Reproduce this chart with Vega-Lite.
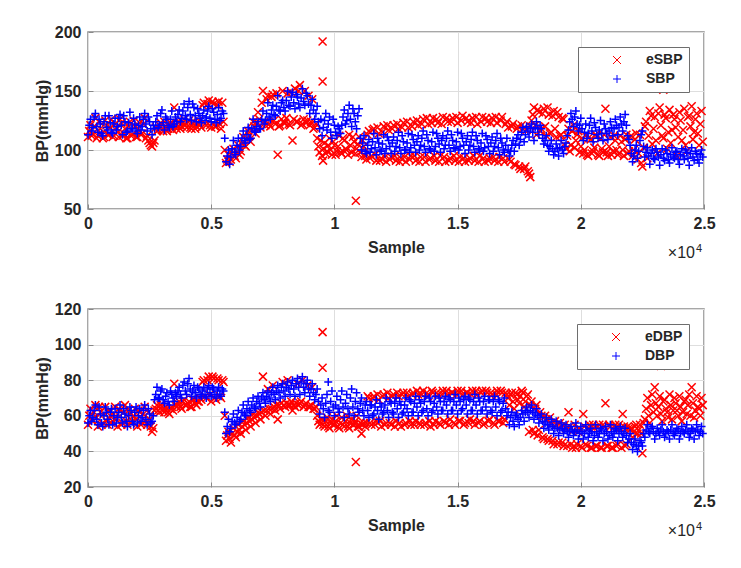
{
"$schema": "https://vega.github.io/schema/vega-lite/v6.json",
"padding": {"left": 33, "top": 23, "right": 10, "bottom": 10},
"background": "white",
"spacing": 100,
"bounds": "flush",
"resolve": {"scale": {"color": "independent", "shape": "independent"}},
"config": {
  "font": "Liberation Sans",
  "view": {"stroke": "#8a8a8a", "strokeWidth": 1.5},
  "axis": {"labelFont": "Liberation Sans", "labelFontSize": 16, "labelFontWeight": "bold", "labelColor": "#262626", "titleFont": "Liberation Sans", "titleFontSize": 16, "titleFontWeight": "bold", "titleColor": "#262626", "domain": false, "gridColor": "#dedede", "gridWidth": 1, "tickColor": "#8a8a8a", "tickSize": -5, "labelFlush": false, "labelOverlap": false, "tickCount": 12},
  "axisX": {"labelPadding": 11, "titlePadding": 8},
  "axisY": {"labelPadding": 12, "titlePadding": 4},
  "legend": {"orient": "top-right", "offset": 15, "strokeColor": "#6e6e6e", "fillColor": "white", "padding": 6, "labelFont": "Liberation Sans", "labelFontSize": 14, "labelFontWeight": "bold", "labelColor": "#262626", "symbolStrokeWidth": 1, "symbolSize": 64, "rowPadding": 5, "labelOffset": 22, "symbolOffset": 26}
},
"datasets": {
"SBP": [
{"x":0,"y":113},{"x":100,"y":126},{"x":200,"y":119},{"x":300,"y":131},{"x":400,"y":115},{"x":500,"y":122},{"x":600,"y":112},{"x":700,"y":129},{"x":800,"y":117},{"x":900,"y":123},
{"x":1000,"y":114},{"x":1100,"y":127},{"x":1200,"y":120},{"x":1300,"y":130},{"x":1400,"y":113},{"x":1500,"y":124},{"x":1600,"y":116},{"x":1700,"y":132},{"x":1800,"y":118},{"x":1900,"y":122},
{"x":2000,"y":114},{"x":2100,"y":128},{"x":2200,"y":120},{"x":2300,"y":131},{"x":2400,"y":116},{"x":2500,"y":124},{"x":2600,"y":113},
{"x":2700,"y":118},{"x":2800,"y":129},{"x":2900,"y":121},{"x":3000,"y":134},{"x":3100,"y":117},{"x":3200,"y":126},{"x":3300,"y":119},{"x":3400,"y":133},{"x":3500,"y":122},
{"x":3600,"y":124},{"x":3700,"y":134},{"x":3800,"y":127},{"x":3900,"y":139},{"x":4000,"y":126},{"x":4100,"y":141},{"x":4200,"y":125},{"x":4300,"y":136},{"x":4400,"y":124},{"x":4500,"y":131},
{"x":4600,"y":123},{"x":4700,"y":134},{"x":4800,"y":128},{"x":4900,"y":137},{"x":5000,"y":124},{"x":5100,"y":132},{"x":5200,"y":123},{"x":5300,"y":136},{"x":5400,"y":127},{"x":5500,"y":131},
{"x":5600,"y":90},{"x":5700,"y":100},{"x":5800,"y":94},{"x":5900,"y":108},
{"x":6000,"y":96},{"x":6100,"y":110},{"x":6200,"y":103},{"x":6300,"y":116},{"x":6400,"y":106},{"x":6500,"y":119},{"x":6600,"y":110},{"x":6700,"y":126},{"x":6800,"y":115},{"x":6900,"y":124},
{"x":7000,"y":118},{"x":7100,"y":133},{"x":7200,"y":125},{"x":7300,"y":140},{"x":7400,"y":126},{"x":7500,"y":138},{"x":7600,"y":129},{"x":7700,"y":146},{"x":7800,"y":133},{"x":7900,"y":142},
{"x":8000,"y":133},{"x":8100,"y":150},{"x":8200,"y":137},{"x":8300,"y":149},{"x":8400,"y":135},{"x":8500,"y":145},{"x":8600,"y":136},{"x":8700,"y":152},{"x":8800,"y":138},{"x":8900,"y":146},
{"x":9000,"y":131},{"x":9100,"y":143},{"x":9200,"y":126},{"x":9300,"y":137},{"x":9400,"y":118},{"x":9500,"y":112},{"x":9600,"y":125},{"x":9700,"y":117},{"x":9800,"y":128},{"x":9900,"y":110},
{"x":10000,"y":121},{"x":10100,"y":112},{"x":10200,"y":118},{"x":10300,"y":121},{"x":10400,"y":134},{"x":10500,"y":125},{"x":10600,"y":138},{"x":10700,"y":120},{"x":10800,"y":131},{"x":10900,"y":118},
{"x":11000,"y":135},{"x":11100,"y":100},{"x":11200,"y":112},
{"x":11300,"y":97},{"x":11400,"y":109},{"x":11500,"y":101},{"x":11600,"y":114},{"x":11700,"y":96},{"x":11800,"y":106},{"x":11900,"y":99},{"x":12000,"y":113},{"x":12100,"y":101},{"x":12200,"y":108},
{"x":12300,"y":97},{"x":12400,"y":111},{"x":12500,"y":103},{"x":12600,"y":115},{"x":12700,"y":97},{"x":12800,"y":107},{"x":12900,"y":100},{"x":13000,"y":114},{"x":13100,"y":102},{"x":13200,"y":109},
{"x":13300,"y":98},{"x":13400,"y":112},{"x":13500,"y":104},{"x":13600,"y":116},{"x":13700,"y":98},{"x":13800,"y":108},{"x":13900,"y":100},{"x":14000,"y":115},{"x":14100,"y":103},{"x":14200,"y":110},
{"x":14300,"y":98},{"x":14400,"y":112},{"x":14500,"y":104},{"x":14600,"y":116},{"x":14700,"y":99},{"x":14800,"y":108},{"x":14900,"y":101},{"x":15000,"y":115},{"x":15100,"y":103},{"x":15200,"y":110},
{"x":15300,"y":97},{"x":15400,"y":112},{"x":15500,"y":104},{"x":15600,"y":115},{"x":15700,"y":98},{"x":15800,"y":108},{"x":15900,"y":100},{"x":16000,"y":114},{"x":16100,"y":102},{"x":16200,"y":109},
{"x":16300,"y":97},{"x":16400,"y":111},{"x":16500,"y":103},{"x":16600,"y":114},{"x":16700,"y":96},{"x":16800,"y":106},{"x":16900,"y":98},{"x":17000,"y":110},
{"x":17100,"y":95},{"x":17200,"y":104},{"x":17300,"y":99},{"x":17400,"y":110},{"x":17500,"y":104},{"x":17600,"y":115},{"x":17700,"y":107},{"x":17800,"y":120},{"x":17900,"y":111},{"x":18000,"y":122},
{"x":18100,"y":108},{"x":18200,"y":124},{"x":18300,"y":113},{"x":18400,"y":118},{"x":18500,"y":105},{"x":18600,"y":112},{"x":18700,"y":99},{"x":18800,"y":108},{"x":18900,"y":96},{"x":19000,"y":105},
{"x":19100,"y":95},{"x":19200,"y":108},{"x":19300,"y":97},{"x":19400,"y":106},
{"x":19500,"y":117},{"x":19600,"y":131},{"x":19700,"y":120},{"x":19800,"y":133},{"x":19900,"y":116},{"x":20000,"y":127},
{"x":20100,"y":108},{"x":20200,"y":122},{"x":20300,"y":114},{"x":20400,"y":127},{"x":20500,"y":107},{"x":20600,"y":119},{"x":20700,"y":110},{"x":20800,"y":125},{"x":20900,"y":108},{"x":21000,"y":118},
{"x":21100,"y":109},{"x":21200,"y":124},{"x":21300,"y":112},{"x":21400,"y":126},{"x":21500,"y":113},{"x":21600,"y":128},{"x":21700,"y":116},{"x":21800,"y":130},{"x":21900,"y":112},{"x":22000,"y":104},
{"x":22100,"y":90},{"x":22200,"y":100},{"x":22300,"y":93},{"x":22400,"y":108},{"x":22500,"y":116},
{"x":22600,"y":94},{"x":22700,"y":102},{"x":22800,"y":88},{"x":22900,"y":100},{"x":23000,"y":92},{"x":23100,"y":98},{"x":23200,"y":87},{"x":23300,"y":101},{"x":23400,"y":91},{"x":23500,"y":97},
{"x":23600,"y":89},{"x":23700,"y":102},{"x":23800,"y":93},{"x":23900,"y":99},{"x":24000,"y":88},{"x":24100,"y":101},{"x":24200,"y":92},{"x":24300,"y":98},{"x":24400,"y":87},{"x":24500,"y":102},
{"x":24600,"y":91},{"x":24700,"y":97},{"x":24800,"y":89},{"x":24900,"y":100},
{"x":50,"y":121},{"x":150,"y":116},{"x":250,"y":128},{"x":350,"y":120},{"x":450,"y":126},{"x":550,"y":114},{"x":650,"y":124},{"x":750,"y":119},{"x":850,"y":129},{"x":950,"y":115},
{"x":1050,"y":122},{"x":1150,"y":117},{"x":1250,"y":127},{"x":1350,"y":121},{"x":1450,"y":129},{"x":1550,"y":115},{"x":1650,"y":123},{"x":1750,"y":118},{"x":1850,"y":127},{"x":1950,"y":116},
{"x":2050,"y":121},{"x":2150,"y":117},{"x":2250,"y":126},{"x":2350,"y":122},{"x":2450,"y":128},{"x":2550,"y":118},{"x":2650,"y":121},
{"x":2750,"y":124},{"x":2850,"y":119},{"x":2950,"y":131},{"x":3050,"y":123},{"x":3150,"y":128},{"x":3250,"y":121},{"x":3350,"y":126},{"x":3450,"y":120},{"x":3550,"y":128},
{"x":3650,"y":130},{"x":3750,"y":124},{"x":3850,"y":133},{"x":3950,"y":129},{"x":4050,"y":136},{"x":4150,"y":130},{"x":4250,"y":139},{"x":4350,"y":129},{"x":4450,"y":135},{"x":4550,"y":127},
{"x":4650,"y":129},{"x":4750,"y":125},{"x":4850,"y":133},{"x":4950,"y":127},{"x":5050,"y":135},{"x":5150,"y":126},{"x":5250,"y":130},{"x":5350,"y":125},{"x":5450,"y":133},{"x":5550,"y":110},
{"x":5650,"y":95},{"x":5750,"y":88},{"x":5850,"y":101},{"x":5950,"y":98},
{"x":6050,"y":104},{"x":6150,"y":100},{"x":6250,"y":110},{"x":6350,"y":108},{"x":6450,"y":113},{"x":6550,"y":109},{"x":6650,"y":118},{"x":6750,"y":116},{"x":6850,"y":120},{"x":6950,"y":118},
{"x":7050,"y":126},{"x":7150,"y":122},{"x":7250,"y":131},{"x":7350,"y":128},{"x":7450,"y":134},{"x":7550,"y":130},{"x":7650,"y":137},{"x":7750,"y":134},{"x":7850,"y":140},{"x":7950,"y":136},
{"x":8050,"y":142},{"x":8150,"y":138},{"x":8250,"y":145},{"x":8350,"y":140},{"x":8450,"y":147},{"x":8550,"y":139},{"x":8650,"y":144},{"x":8750,"y":141},{"x":8850,"y":148},{"x":8950,"y":139},
{"x":9050,"y":138},{"x":9150,"y":134},{"x":9250,"y":131},{"x":9350,"y":124},{"x":9450,"y":126},
{"x":9550,"y":119},{"x":9650,"y":131},{"x":9750,"y":122},{"x":9850,"y":115},{"x":9950,"y":126},
{"x":10050,"y":115},{"x":10150,"y":120},{"x":10250,"y":114},{"x":10350,"y":128},{"x":10450,"y":122},{"x":10550,"y":131},{"x":10650,"y":126},{"x":10750,"y":135},{"x":10850,"y":124},{"x":10950,"y":129},
{"x":11050,"y":110},{"x":11150,"y":106},{"x":11250,"y":99},
{"x":11350,"y":104},{"x":11450,"y":98},{"x":11550,"y":107},{"x":11650,"y":102},{"x":11750,"y":110},{"x":11850,"y":100},{"x":11950,"y":105},{"x":12050,"y":97},{"x":12150,"y":111},{"x":12250,"y":103},
{"x":12350,"y":106},{"x":12450,"y":99},{"x":12550,"y":108},{"x":12650,"y":102},{"x":12750,"y":112},{"x":12850,"y":100},{"x":12950,"y":106},{"x":13050,"y":98},{"x":13150,"y":113},{"x":13250,"y":104},
{"x":13350,"y":107},{"x":13450,"y":100},{"x":13550,"y":110},{"x":13650,"y":103},{"x":13750,"y":113},{"x":13850,"y":101},{"x":13950,"y":107},{"x":14050,"y":99},{"x":14150,"y":114},{"x":14250,"y":105},
{"x":14350,"y":108},{"x":14450,"y":101},{"x":14550,"y":110},{"x":14650,"y":104},{"x":14750,"y":113},{"x":14850,"y":102},{"x":14950,"y":107},{"x":15050,"y":100},{"x":15150,"y":114},{"x":15250,"y":104},
{"x":15350,"y":107},{"x":15450,"y":100},{"x":15550,"y":109},{"x":15650,"y":103},{"x":15750,"y":112},{"x":15850,"y":101},{"x":15950,"y":106},{"x":16050,"y":99},{"x":16150,"y":112},{"x":16250,"y":103},
{"x":16350,"y":106},{"x":16450,"y":99},{"x":16550,"y":108},{"x":16650,"y":102},{"x":16750,"y":110},{"x":16850,"y":100},{"x":16950,"y":104},
{"x":17050,"y":100},{"x":17150,"y":99},{"x":17250,"y":108},{"x":17350,"y":105},{"x":17450,"y":113},{"x":17550,"y":109},{"x":17650,"y":119},{"x":17750,"y":113},{"x":17850,"y":116},{"x":17950,"y":118},
{"x":18050,"y":115},{"x":18150,"y":119},{"x":18250,"y":118},{"x":18350,"y":121},{"x":18450,"y":110},{"x":18550,"y":108},{"x":18650,"y":104},{"x":18750,"y":103},{"x":18850,"y":101},{"x":18950,"y":99},
{"x":19050,"y":101},{"x":19150,"y":102},{"x":19250,"y":100},{"x":19350,"y":103},{"x":19450,"y":112},
{"x":19550,"y":124},{"x":19650,"y":126},{"x":19750,"y":128},{"x":19850,"y":122},{"x":19950,"y":121},
{"x":20050,"y":118},{"x":20150,"y":115},{"x":20250,"y":110},{"x":20350,"y":121},{"x":20450,"y":116},{"x":20550,"y":123},{"x":20650,"y":113},{"x":20750,"y":117},{"x":20850,"y":114},{"x":20950,"y":122},
{"x":21050,"y":114},{"x":21150,"y":116},{"x":21250,"y":119},{"x":21350,"y":118},{"x":21450,"y":121},{"x":21550,"y":119},{"x":21650,"y":122},{"x":21750,"y":124},{"x":21850,"y":121},{"x":21950,"y":109},
{"x":22050,"y":97},{"x":22150,"y":95},{"x":22250,"y":104},{"x":22350,"y":99},{"x":22450,"y":113},{"x":22550,"y":103},
{"x":22650,"y":98},{"x":22750,"y":95},{"x":22850,"y":97},{"x":22950,"y":93},{"x":23050,"y":101},{"x":23150,"y":94},{"x":23250,"y":96},{"x":23350,"y":93},{"x":23450,"y":100},{"x":23550,"y":92},
{"x":23650,"y":96},{"x":23750,"y":94},{"x":23850,"y":98},{"x":23950,"y":92},{"x":24050,"y":96},{"x":24150,"y":95},{"x":24250,"y":100},{"x":24350,"y":93},{"x":24450,"y":97},{"x":24550,"y":94},
{"x":24650,"y":99},{"x":24750,"y":92},{"x":24850,"y":96},{"x":24950,"y":94}
],
"eSBP": [
{"x":0,"y":111},{"x":100,"y":121},{"x":200,"y":114},{"x":300,"y":127},{"x":400,"y":112},{"x":500,"y":118},{"x":600,"y":110},{"x":700,"y":125},{"x":800,"y":113},{"x":900,"y":119},
{"x":1000,"y":111},{"x":1100,"y":122},{"x":1200,"y":115},{"x":1300,"y":126},{"x":1400,"y":112},{"x":1500,"y":118},{"x":1600,"y":110},{"x":1700,"y":124},{"x":1800,"y":113},{"x":1900,"y":120},
{"x":2000,"y":111},{"x":2100,"y":123},{"x":2200,"y":114},{"x":2300,"y":127},{"x":2400,"y":112},{"x":2500,"y":106},{"x":2600,"y":103},{"x":2700,"y":108},
{"x":2800,"y":116},{"x":2900,"y":121},{"x":3000,"y":117},{"x":3100,"y":124},{"x":3200,"y":116},{"x":3300,"y":121},{"x":3400,"y":118},{"x":3500,"y":136},
{"x":3600,"y":118},{"x":3700,"y":124},{"x":3800,"y":120},{"x":3900,"y":126},{"x":4000,"y":119},{"x":4100,"y":125},{"x":4200,"y":118},{"x":4300,"y":124},{"x":4400,"y":120},{"x":4500,"y":125},
{"x":4600,"y":119},{"x":4700,"y":140},{"x":4800,"y":121},{"x":4900,"y":142},{"x":5000,"y":119},{"x":5100,"y":139},{"x":5200,"y":120},{"x":5300,"y":141},{"x":5400,"y":118},{"x":5500,"y":124},
{"x":5600,"y":89},{"x":5700,"y":96},{"x":5800,"y":92},{"x":5900,"y":101},
{"x":6000,"y":93},{"x":6100,"y":104},{"x":6200,"y":99},{"x":6300,"y":111},{"x":6400,"y":103},{"x":6500,"y":116},{"x":6600,"y":107},{"x":6700,"y":124},{"x":6800,"y":114},{"x":6900,"y":132},
{"x":7000,"y":119},{"x":7100,"y":150},{"x":7200,"y":121},{"x":7300,"y":146},{"x":7400,"y":120},{"x":7500,"y":147},{"x":7600,"y":122},{"x":7700,"y":96},{"x":7800,"y":121},{"x":7900,"y":150},
{"x":8000,"y":123},{"x":8100,"y":148},{"x":8200,"y":121},{"x":8300,"y":108},{"x":8400,"y":152},{"x":8500,"y":124},{"x":8600,"y":155},{"x":8700,"y":122},{"x":8800,"y":150},{"x":8900,"y":125},
{"x":9000,"y":121},{"x":9100,"y":143},{"x":9200,"y":119},{"x":9300,"y":110},{"x":9400,"y":98},{"x":9500,"y":95},{"x":9600,"y":106},{"x":9700,"y":99},{"x":9800,"y":110},{"x":9900,"y":96},
{"x":10000,"y":104},{"x":10100,"y":99},{"x":10200,"y":112},{"x":10300,"y":97},{"x":10400,"y":108},{"x":10500,"y":100},{"x":10600,"y":113},{"x":10700,"y":98},{"x":10800,"y":107},{"x":10900,"y":101},
{"x":11000,"y":111},{"x":11100,"y":94},{"x":11200,"y":103},
{"x":9520,"y":192},{"x":9520,"y":158},{"x":9540,"y":91},{"x":10870,"y":57},
{"x":11300,"y":92},{"x":11400,"y":116},{"x":11500,"y":95},{"x":11600,"y":118},{"x":11700,"y":91},{"x":11800,"y":114},{"x":11900,"y":93},{"x":12000,"y":120},{"x":12100,"y":90},{"x":12200,"y":117},
{"x":12300,"y":94},{"x":12400,"y":121},{"x":12500,"y":91},{"x":12600,"y":118},{"x":12700,"y":93},{"x":12800,"y":123},{"x":12900,"y":90},{"x":13000,"y":119},{"x":13100,"y":95},{"x":13200,"y":124},
{"x":13300,"y":91},{"x":13400,"y":121},{"x":13500,"y":94},{"x":13600,"y":126},{"x":13700,"y":90},{"x":13800,"y":122},{"x":13900,"y":93},{"x":14000,"y":127},{"x":14100,"y":91},{"x":14200,"y":123},
{"x":14300,"y":95},{"x":14400,"y":128},{"x":14500,"y":90},{"x":14600,"y":124},{"x":14700,"y":93},{"x":14800,"y":127},{"x":14900,"y":91},{"x":15000,"y":123},{"x":15100,"y":94},{"x":15200,"y":129},
{"x":15300,"y":90},{"x":15400,"y":124},{"x":15500,"y":93},{"x":15600,"y":127},{"x":15700,"y":91},{"x":15800,"y":122},{"x":15900,"y":95},{"x":16000,"y":128},{"x":16100,"y":90},{"x":16200,"y":124},
{"x":16300,"y":93},{"x":16400,"y":127},{"x":16500,"y":91},{"x":16600,"y":123},{"x":16700,"y":94},{"x":16800,"y":128},{"x":16900,"y":90},{"x":17000,"y":124},
{"x":17100,"y":92},{"x":17200,"y":120},{"x":17300,"y":88},{"x":17400,"y":118},{"x":17500,"y":86},{"x":17600,"y":121},{"x":17700,"y":84},{"x":17800,"y":117},{"x":17900,"y":80},{"x":17950,"y":77},
{"x":18000,"y":125},{"x":18100,"y":136},{"x":18200,"y":113},{"x":18300,"y":132},{"x":18400,"y":118},{"x":18500,"y":135},{"x":18600,"y":112},{"x":18700,"y":130},{"x":18800,"y":115},{"x":18900,"y":133},
{"x":19000,"y":111},{"x":19100,"y":128},{"x":19200,"y":113},{"x":19300,"y":126},
{"x":19400,"y":101},{"x":19500,"y":118},{"x":19600,"y":104},{"x":19700,"y":121},{"x":19800,"y":108},{"x":19900,"y":116},{"x":20000,"y":103},
{"x":20100,"y":97},{"x":20200,"y":112},{"x":20300,"y":95},{"x":20400,"y":109},{"x":20500,"y":99},{"x":20600,"y":113},{"x":20700,"y":96},{"x":20800,"y":110},{"x":20900,"y":98},{"x":21000,"y":135},
{"x":21100,"y":95},{"x":21200,"y":111},{"x":21300,"y":99},{"x":21400,"y":108},{"x":21500,"y":96},{"x":21600,"y":112},{"x":21700,"y":100},{"x":21800,"y":109},{"x":21900,"y":97},{"x":22000,"y":111},
{"x":22100,"y":95},{"x":22200,"y":109},{"x":22300,"y":92},{"x":22400,"y":113},{"x":22500,"y":86},
{"x":22600,"y":120},{"x":22700,"y":93},{"x":22800,"y":133},{"x":22900,"y":105},{"x":23000,"y":128},{"x":23100,"y":97},{"x":23200,"y":136},{"x":23300,"y":112},{"x":23400,"y":130},{"x":23500,"y":101},
{"x":23600,"y":134},{"x":23700,"y":117},{"x":23800,"y":126},{"x":23900,"y":95},{"x":24000,"y":132},{"x":24100,"y":108},{"x":24200,"y":135},{"x":24300,"y":99},{"x":24400,"y":129},{"x":24500,"y":137},
{"x":24600,"y":115},{"x":24700,"y":131},{"x":24800,"y":104},{"x":24900,"y":133},
{"x":22650,"y":124},{"x":22750,"y":112},{"x":22850,"y":129},{"x":22950,"y":118},{"x":23050,"y":108},{"x":23150,"y":131},{"x":23250,"y":121},{"x":23350,"y":110},{"x":23450,"y":127},{"x":23550,"y":115},
{"x":23650,"y":106},{"x":23750,"y":130},{"x":23850,"y":119},{"x":23950,"y":111},{"x":24050,"y":125},{"x":24150,"y":117},{"x":24250,"y":104},{"x":24350,"y":128},{"x":24450,"y":120},{"x":24550,"y":109},
{"x":24650,"y":126},{"x":24750,"y":114},{"x":24850,"y":122},{"x":24950,"y":107},{"x":23350,"y":151},
{"x":50,"y":116},{"x":150,"y":112},{"x":250,"y":120},{"x":350,"y":110},{"x":450,"y":124},{"x":550,"y":114},{"x":650,"y":111},{"x":750,"y":121},{"x":850,"y":113},{"x":950,"y":126},
{"x":1050,"y":112},{"x":1150,"y":119},{"x":1250,"y":111},{"x":1350,"y":123},{"x":1450,"y":114},{"x":1550,"y":110},{"x":1650,"y":120},{"x":1750,"y":112},{"x":1850,"y":125},{"x":1950,"y":111},
{"x":2050,"y":118},{"x":2150,"y":113},{"x":2250,"y":122},{"x":2350,"y":110},{"x":2450,"y":108},{"x":2550,"y":104},{"x":2650,"y":106},
{"x":2750,"y":119},{"x":2850,"y":117},{"x":2950,"y":123},{"x":3050,"y":116},{"x":3150,"y":120},{"x":3250,"y":118},{"x":3350,"y":123},{"x":3450,"y":117},{"x":3550,"y":121},
{"x":3650,"y":120},{"x":3750,"y":118},{"x":3850,"y":123},{"x":3950,"y":121},{"x":4050,"y":124},{"x":4150,"y":119},{"x":4250,"y":122},{"x":4350,"y":118},{"x":4450,"y":123},{"x":4550,"y":121},
{"x":4650,"y":138},{"x":4750,"y":122},{"x":4850,"y":139},{"x":4950,"y":121},{"x":5050,"y":141},{"x":5150,"y":120},{"x":5250,"y":138},{"x":5350,"y":122},{"x":5450,"y":140},{"x":5550,"y":100},
{"x":5650,"y":92},{"x":5750,"y":90},{"x":5850,"y":97},{"x":5950,"y":95},
{"x":6050,"y":98},{"x":6150,"y":96},{"x":6250,"y":105},{"x":6350,"y":104},{"x":6450,"y":110},{"x":6550,"y":112},{"x":6650,"y":117},{"x":6750,"y":120},{"x":6850,"y":124},{"x":6950,"y":126},
{"x":7050,"y":140},{"x":7150,"y":124},{"x":7250,"y":143},{"x":7350,"y":122},{"x":7450,"y":145},{"x":7550,"y":125},{"x":7650,"y":148},{"x":7750,"y":120},{"x":7850,"y":126},{"x":7950,"y":123},
{"x":8050,"y":127},{"x":8150,"y":122},{"x":8250,"y":149},{"x":8350,"y":126},{"x":8450,"y":124},{"x":8550,"y":150},{"x":8650,"y":121},{"x":8750,"y":126},{"x":8850,"y":123},{"x":8950,"y":146},
{"x":9050,"y":124},{"x":9150,"y":118},{"x":9250,"y":122},{"x":9350,"y":103},{"x":9450,"y":108},{"x":9550,"y":101},{"x":9650,"y":97},{"x":9750,"y":104},{"x":9850,"y":100},{"x":9950,"y":107},
{"x":10050,"y":96},{"x":10150,"y":103},{"x":10250,"y":98},{"x":10350,"y":110},{"x":10450,"y":101},{"x":10550,"y":96},{"x":10650,"y":104},{"x":10750,"y":111},{"x":10850,"y":97},{"x":10950,"y":105},
{"x":11050,"y":98},{"x":11150,"y":108},{"x":11250,"y":95},
{"x":11350,"y":113},{"x":11450,"y":93},{"x":11550,"y":117},{"x":11650,"y":96},{"x":11750,"y":119},{"x":11850,"y":91},{"x":11950,"y":115},{"x":12050,"y":94},{"x":12150,"y":121},{"x":12250,"y":92},
{"x":12350,"y":118},{"x":12450,"y":95},{"x":12550,"y":122},{"x":12650,"y":90},{"x":12750,"y":119},{"x":12850,"y":94},{"x":12950,"y":124},{"x":13050,"y":92},{"x":13150,"y":120},{"x":13250,"y":95},
{"x":13350,"y":125},{"x":13450,"y":90},{"x":13550,"y":122},{"x":13650,"y":94},{"x":13750,"y":127},{"x":13850,"y":92},{"x":13950,"y":123},{"x":14050,"y":95},{"x":14150,"y":126},{"x":14250,"y":90},
{"x":14350,"y":122},{"x":14450,"y":94},{"x":14550,"y":127},{"x":14650,"y":91},{"x":14750,"y":124},{"x":14850,"y":95},{"x":14950,"y":128},{"x":15050,"y":90},{"x":15150,"y":125},{"x":15250,"y":93},
{"x":15350,"y":127},{"x":15450,"y":91},{"x":15550,"y":123},{"x":15650,"y":95},{"x":15750,"y":128},{"x":15850,"y":90},{"x":15950,"y":124},{"x":16050,"y":93},{"x":16150,"y":127},{"x":16250,"y":91},
{"x":16350,"y":123},{"x":16450,"y":94},{"x":16550,"y":128},{"x":16650,"y":90},{"x":16750,"y":125},{"x":16850,"y":93},{"x":16950,"y":122},
{"x":17050,"y":119},{"x":17150,"y":90},{"x":17250,"y":122},{"x":17350,"y":87},{"x":17450,"y":120},{"x":17550,"y":84},{"x":17650,"y":118},{"x":17750,"y":86},{"x":17850,"y":82},{"x":17950,"y":120},
{"x":18050,"y":130},{"x":18150,"y":121},{"x":18250,"y":134},{"x":18350,"y":116},{"x":18450,"y":131},{"x":18550,"y":120},{"x":18650,"y":136},{"x":18750,"y":114},{"x":18850,"y":129},{"x":18950,"y":118},
{"x":19050,"y":132},{"x":19150,"y":112},{"x":19250,"y":127},{"x":19350,"y":104},{"x":19450,"y":112},{"x":19550,"y":99},{"x":19650,"y":116},{"x":19750,"y":102},{"x":19850,"y":113},{"x":19950,"y":98},
{"x":20050,"y":110},{"x":20150,"y":100},{"x":20250,"y":96},{"x":20350,"y":111},{"x":20450,"y":97},{"x":20550,"y":102},{"x":20650,"y":112},{"x":20750,"y":95},{"x":20850,"y":101},{"x":20950,"y":113},
{"x":21050,"y":98},{"x":21150,"y":103},{"x":21250,"y":96},{"x":21350,"y":112},{"x":21450,"y":100},{"x":21550,"y":97},{"x":21650,"y":107},{"x":21750,"y":95},{"x":21850,"y":113},{"x":21950,"y":99},
{"x":22050,"y":112},{"x":22150,"y":100},{"x":22250,"y":114},{"x":22350,"y":97},{"x":22450,"y":89},{"x":22550,"y":102}
],
"DBP": [
{"x":0,"y":56},{"x":100,"y":63},{"x":200,"y":59},{"x":300,"y":66},{"x":400,"y":55},{"x":500,"y":61},{"x":600,"y":54},{"x":700,"y":65},{"x":800,"y":58},{"x":900,"y":62},
{"x":1000,"y":55},{"x":1100,"y":64},{"x":1200,"y":59},{"x":1300,"y":66},{"x":1400,"y":56},{"x":1500,"y":61},{"x":1600,"y":54},{"x":1700,"y":65},{"x":1800,"y":57},{"x":1900,"y":62},
{"x":2000,"y":56},{"x":2100,"y":64},{"x":2200,"y":59},{"x":2300,"y":66},{"x":2400,"y":55},{"x":2500,"y":61},{"x":2600,"y":57},
{"x":2700,"y":69},{"x":2800,"y":76},{"x":2900,"y":70},{"x":3000,"y":75},{"x":3100,"y":67},{"x":3200,"y":73},{"x":3300,"y":66},{"x":3400,"y":72},{"x":3500,"y":68},
{"x":3600,"y":71},{"x":3700,"y":76},{"x":3800,"y":70},{"x":3900,"y":79},{"x":4000,"y":72},{"x":4100,"y":81},{"x":4200,"y":71},{"x":4300,"y":77},{"x":4400,"y":70},{"x":4500,"y":75},
{"x":4600,"y":71},{"x":4700,"y":76},{"x":4800,"y":70},{"x":4900,"y":77},{"x":5000,"y":71},{"x":5100,"y":75},{"x":5200,"y":70},{"x":5300,"y":76},{"x":5400,"y":71},{"x":5500,"y":74},
{"x":5600,"y":50},{"x":5700,"y":58},{"x":5800,"y":53},{"x":5900,"y":61},
{"x":6000,"y":55},{"x":6100,"y":63},{"x":6200,"y":58},{"x":6300,"y":66},{"x":6400,"y":60},{"x":6500,"y":68},{"x":6600,"y":62},{"x":6700,"y":70},{"x":6800,"y":64},{"x":6900,"y":71},
{"x":7000,"y":65},{"x":7100,"y":73},{"x":7200,"y":67},{"x":7300,"y":74},{"x":7400,"y":68},{"x":7500,"y":76},{"x":7600,"y":69},{"x":7700,"y":77},{"x":7800,"y":70},{"x":7900,"y":78},
{"x":8000,"y":71},{"x":8100,"y":79},{"x":8200,"y":72},{"x":8300,"y":80},{"x":8400,"y":71},{"x":8500,"y":81},{"x":8600,"y":72},{"x":8700,"y":82},{"x":8800,"y":73},{"x":8900,"y":80},
{"x":9000,"y":71},{"x":9100,"y":78},{"x":9200,"y":69},{"x":9300,"y":75},{"x":9400,"y":61},{"x":9500,"y":70},{"x":9600,"y":59},{"x":9700,"y":72},{"x":9750,"y":79},{"x":9800,"y":62},{"x":9900,"y":74},
{"x":10000,"y":60},{"x":10100,"y":71},{"x":10200,"y":62},{"x":10300,"y":74},{"x":10400,"y":59},{"x":10500,"y":72},{"x":10600,"y":61},{"x":10700,"y":75},{"x":10800,"y":60},{"x":10900,"y":73},
{"x":11000,"y":62},{"x":11100,"y":70},{"x":11200,"y":60},
{"x":11300,"y":68},{"x":11400,"y":59},{"x":11500,"y":66},{"x":11600,"y":61},{"x":11700,"y":69},{"x":11800,"y":58},{"x":11900,"y":65},{"x":12000,"y":62},{"x":12100,"y":70},{"x":12200,"y":59},
{"x":12300,"y":67},{"x":12400,"y":61},{"x":12500,"y":70},{"x":12600,"y":59},{"x":12700,"y":66},{"x":12800,"y":62},{"x":12900,"y":70},{"x":13000,"y":60},{"x":13100,"y":68},{"x":13200,"y":62},
{"x":13300,"y":71},{"x":13400,"y":60},{"x":13500,"y":67},{"x":13600,"y":63},{"x":13700,"y":71},{"x":13800,"y":60},{"x":13900,"y":68},{"x":14000,"y":63},{"x":14100,"y":71},{"x":14200,"y":61},
{"x":14300,"y":68},{"x":14400,"y":63},{"x":14500,"y":71},{"x":14600,"y":61},{"x":14700,"y":69},{"x":14800,"y":63},{"x":14900,"y":72},{"x":15000,"y":61},{"x":15100,"y":68},{"x":15200,"y":64},
{"x":15300,"y":71},{"x":15400,"y":61},{"x":15500,"y":69},{"x":15600,"y":63},{"x":15700,"y":72},{"x":15800,"y":61},{"x":15900,"y":68},{"x":16000,"y":63},{"x":16100,"y":71},{"x":16200,"y":61},
{"x":16300,"y":69},{"x":16400,"y":62},{"x":16500,"y":71},{"x":16600,"y":60},{"x":16700,"y":68},{"x":16800,"y":63},{"x":16900,"y":70},{"x":17000,"y":60},
{"x":17100,"y":55},{"x":17200,"y":62},{"x":17300,"y":54},{"x":17400,"y":61},{"x":17500,"y":55},{"x":17600,"y":63},{"x":17700,"y":57},{"x":17800,"y":65},{"x":17900,"y":59},{"x":18000,"y":66},
{"x":18100,"y":58},{"x":18200,"y":64},{"x":18300,"y":56},{"x":18400,"y":61},{"x":18500,"y":53},{"x":18600,"y":59},{"x":18700,"y":52},{"x":18800,"y":58},{"x":18900,"y":50},{"x":19000,"y":57},
{"x":19100,"y":49},{"x":19200,"y":56},{"x":19300,"y":50},{"x":19400,"y":55},{"x":19500,"y":48},{"x":19600,"y":54},{"x":19700,"y":49},{"x":19800,"y":56},{"x":19900,"y":47},{"x":20000,"y":54},
{"x":20100,"y":47},{"x":20200,"y":55},{"x":20300,"y":48},{"x":20400,"y":53},{"x":20500,"y":46},{"x":20600,"y":55},{"x":20700,"y":48},{"x":20800,"y":53},{"x":20900,"y":46},{"x":21000,"y":54},
{"x":21100,"y":47},{"x":21200,"y":55},{"x":21300,"y":48},{"x":21400,"y":53},{"x":21500,"y":46},{"x":21600,"y":54},{"x":21700,"y":48},{"x":21800,"y":53},{"x":21900,"y":45},{"x":22000,"y":50},
{"x":22100,"y":41},{"x":22200,"y":47},{"x":22300,"y":40},{"x":22400,"y":46},{"x":22500,"y":43},
{"x":22600,"y":48},{"x":22700,"y":55},{"x":22800,"y":50},{"x":22900,"y":54},{"x":23000,"y":47},{"x":23100,"y":53},{"x":23200,"y":49},{"x":23300,"y":55},{"x":23400,"y":48},{"x":23500,"y":52},
{"x":23600,"y":47},{"x":23700,"y":55},{"x":23800,"y":49},{"x":23900,"y":53},{"x":24000,"y":47},{"x":24100,"y":54},{"x":24200,"y":50},{"x":24300,"y":55},{"x":24400,"y":48},{"x":24500,"y":53},
{"x":24600,"y":47},{"x":24700,"y":55},{"x":24800,"y":49},{"x":24900,"y":54},
{"x":50,"y":60},{"x":150,"y":57},{"x":250,"y":63},{"x":350,"y":58},{"x":450,"y":65},{"x":550,"y":56},{"x":650,"y":60},{"x":750,"y":62},{"x":850,"y":55},{"x":950,"y":64},
{"x":1050,"y":60},{"x":1150,"y":56},{"x":1250,"y":62},{"x":1350,"y":59},{"x":1450,"y":64},{"x":1550,"y":57},{"x":1650,"y":60},{"x":1750,"y":63},{"x":1850,"y":55},{"x":1950,"y":65},
{"x":2050,"y":60},{"x":2150,"y":57},{"x":2250,"y":63},{"x":2350,"y":58},{"x":2450,"y":64},{"x":2550,"y":56},{"x":2650,"y":60},
{"x":2750,"y":72},{"x":2850,"y":70},{"x":2950,"y":74},{"x":3050,"y":69},{"x":3150,"y":71},{"x":3250,"y":68},{"x":3350,"y":74},{"x":3450,"y":70},{"x":3550,"y":73},
{"x":3650,"y":74},{"x":3750,"y":72},{"x":3850,"y":77},{"x":3950,"y":74},{"x":4050,"y":78},{"x":4150,"y":75},{"x":4250,"y":74},{"x":4350,"y":73},{"x":4450,"y":76},{"x":4550,"y":72},
{"x":4650,"y":74},{"x":4750,"y":72},{"x":4850,"y":75},{"x":4950,"y":73},{"x":5050,"y":76},{"x":5150,"y":72},{"x":5250,"y":74},{"x":5350,"y":72},{"x":5450,"y":75},{"x":5550,"y":62},
{"x":5650,"y":54},{"x":5750,"y":51},{"x":5850,"y":57},{"x":5950,"y":56},
{"x":6050,"y":59},{"x":6150,"y":57},{"x":6250,"y":62},{"x":6350,"y":61},{"x":6450,"y":64},{"x":6550,"y":63},{"x":6650,"y":66},{"x":6750,"y":65},{"x":6850,"y":68},{"x":6950,"y":67},
{"x":7050,"y":70},{"x":7150,"y":69},{"x":7250,"y":71},{"x":7350,"y":70},{"x":7450,"y":73},{"x":7550,"y":72},{"x":7650,"y":74},{"x":7750,"y":73},{"x":7850,"y":76},{"x":7950,"y":74},
{"x":8050,"y":76},{"x":8150,"y":75},{"x":8250,"y":77},{"x":8350,"y":75},{"x":8450,"y":78},{"x":8550,"y":76},{"x":8650,"y":79},{"x":8750,"y":76},{"x":8850,"y":78},{"x":8950,"y":75},
{"x":9050,"y":75},{"x":9150,"y":73},{"x":9250,"y":72},{"x":9350,"y":68},{"x":9450,"y":66},{"x":9550,"y":64},{"x":9650,"y":67},{"x":9750,"y":63},{"x":9850,"y":68},{"x":9950,"y":65},
{"x":10050,"y":66},{"x":10150,"y":64},{"x":10250,"y":69},{"x":10350,"y":65},{"x":10450,"y":67},{"x":10550,"y":64},{"x":10650,"y":70},{"x":10750,"y":65},{"x":10850,"y":68},{"x":10950,"y":64},
{"x":11050,"y":67},{"x":11150,"y":63},{"x":11250,"y":66},
{"x":11350,"y":63},{"x":11450,"y":66},{"x":11550,"y":60},{"x":11650,"y":65},{"x":11750,"y":63},{"x":11850,"y":67},{"x":11950,"y":61},{"x":12050,"y":66},{"x":12150,"y":63},{"x":12250,"y":68},
{"x":12350,"y":62},{"x":12450,"y":67},{"x":12550,"y":64},{"x":12650,"y":68},{"x":12750,"y":61},{"x":12850,"y":66},{"x":12950,"y":64},{"x":13050,"y":69},{"x":13150,"y":62},{"x":13250,"y":67},
{"x":13350,"y":65},{"x":13450,"y":69},{"x":13550,"y":62},{"x":13650,"y":68},{"x":13750,"y":64},{"x":13850,"y":70},{"x":13950,"y":62},{"x":14050,"y":67},{"x":14150,"y":65},{"x":14250,"y":70},
{"x":14350,"y":63},{"x":14450,"y":68},{"x":14550,"y":66},{"x":14650,"y":70},{"x":14750,"y":63},{"x":14850,"y":68},{"x":14950,"y":66},{"x":15050,"y":70},{"x":15150,"y":63},{"x":15250,"y":69},
{"x":15350,"y":66},{"x":15450,"y":70},{"x":15550,"y":63},{"x":15650,"y":68},{"x":15750,"y":66},{"x":15850,"y":70},{"x":15950,"y":63},{"x":16050,"y":68},{"x":16150,"y":65},{"x":16250,"y":69},
{"x":16350,"y":63},{"x":16450,"y":68},{"x":16550,"y":65},{"x":16650,"y":69},{"x":16750,"y":62},{"x":16850,"y":67},{"x":16950,"y":64},
{"x":17050,"y":62},{"x":17150,"y":59},{"x":17250,"y":57},{"x":17350,"y":60},{"x":17450,"y":58},{"x":17550,"y":59},{"x":17650,"y":61},{"x":17750,"y":62},{"x":17850,"y":62},{"x":17950,"y":63},
{"x":18050,"y":62},{"x":18150,"y":61},{"x":18250,"y":60},{"x":18350,"y":59},{"x":18450,"y":57},{"x":18550,"y":56},{"x":18650,"y":55},{"x":18750,"y":55},{"x":18850,"y":54},{"x":18950,"y":53},
{"x":19050,"y":53},{"x":19150,"y":52},{"x":19250,"y":53},{"x":19350,"y":52},{"x":19450,"y":51},{"x":19550,"y":51},{"x":19650,"y":52},{"x":19750,"y":51},{"x":19850,"y":52},{"x":19950,"y":50},
{"x":20050,"y":51},{"x":20150,"y":50},{"x":20250,"y":52},{"x":20350,"y":50},{"x":20450,"y":51},{"x":20550,"y":49},{"x":20650,"y":51},{"x":20750,"y":50},{"x":20850,"y":52},{"x":20950,"y":50},
{"x":21050,"y":51},{"x":21150,"y":49},{"x":21250,"y":51},{"x":21350,"y":50},{"x":21450,"y":52},{"x":21550,"y":50},{"x":21650,"y":51},{"x":21750,"y":50},{"x":21850,"y":49},{"x":21950,"y":47},
{"x":22050,"y":45},{"x":22150,"y":44},{"x":22250,"y":43},{"x":22350,"y":43},{"x":22450,"y":45},{"x":22550,"y":50},
{"x":22650,"y":52},{"x":22750,"y":51},{"x":22850,"y":53},{"x":22950,"y":51},{"x":23050,"y":50},{"x":23150,"y":51},{"x":23250,"y":52},{"x":23350,"y":51},{"x":23450,"y":50},{"x":23550,"y":51},
{"x":23650,"y":52},{"x":23750,"y":50},{"x":23850,"y":51},{"x":23950,"y":52},{"x":24050,"y":50},{"x":24150,"y":51},{"x":24250,"y":52},{"x":24350,"y":51},{"x":24450,"y":50},{"x":24550,"y":52},
{"x":24650,"y":51},{"x":24750,"y":52},{"x":24850,"y":51},{"x":24950,"y":50}
],
"eDBP": [
{"x":0,"y":55},{"x":100,"y":64},{"x":200,"y":57},{"x":300,"y":66},{"x":400,"y":54},{"x":500,"y":62},{"x":600,"y":56},{"x":700,"y":65},{"x":800,"y":55},{"x":900,"y":60},
{"x":1000,"y":57},{"x":1100,"y":65},{"x":1200,"y":54},{"x":1300,"y":63},{"x":1400,"y":56},{"x":1500,"y":66},{"x":1600,"y":55},{"x":1700,"y":61},{"x":1800,"y":57},{"x":1900,"y":64},
{"x":2000,"y":54},{"x":2100,"y":62},{"x":2200,"y":56},{"x":2300,"y":65},{"x":2400,"y":55},{"x":2500,"y":58},{"x":2600,"y":51},
{"x":2700,"y":63},{"x":2800,"y":66},{"x":2900,"y":62},{"x":3000,"y":65},{"x":3100,"y":62},{"x":3200,"y":64},{"x":3300,"y":61},{"x":3400,"y":65},{"x":3500,"y":78},
{"x":3600,"y":65},{"x":3700,"y":68},{"x":3800,"y":64},{"x":3900,"y":69},{"x":4000,"y":66},{"x":4100,"y":68},{"x":4200,"y":65},{"x":4300,"y":69},{"x":4400,"y":66},{"x":4500,"y":68},
{"x":4600,"y":69},{"x":4700,"y":80},{"x":4800,"y":70},{"x":4900,"y":82},{"x":5000,"y":68},{"x":5100,"y":81},{"x":5200,"y":69},{"x":5300,"y":80},{"x":5400,"y":70},{"x":5500,"y":79},
{"x":5600,"y":46},{"x":5700,"y":51},{"x":5800,"y":45},{"x":5900,"y":53},
{"x":6000,"y":48},{"x":6100,"y":55},{"x":6200,"y":50},{"x":6300,"y":57},{"x":6400,"y":52},{"x":6500,"y":59},{"x":6600,"y":54},{"x":6700,"y":61},{"x":6800,"y":56},{"x":6900,"y":62},
{"x":7000,"y":58},{"x":7100,"y":82},{"x":7200,"y":60},{"x":7300,"y":75},{"x":7400,"y":61},{"x":7500,"y":77},{"x":7600,"y":63},{"x":7700,"y":58},{"x":7800,"y":64},{"x":7900,"y":79},
{"x":8000,"y":65},{"x":8100,"y":80},{"x":8200,"y":66},{"x":8300,"y":63},{"x":8400,"y":65},{"x":8500,"y":78},{"x":8600,"y":67},{"x":8700,"y":80},{"x":8800,"y":66},{"x":8900,"y":77},
{"x":9000,"y":65},{"x":9100,"y":76},{"x":9200,"y":64},{"x":9300,"y":60},{"x":9400,"y":55},{"x":9500,"y":58},{"x":9600,"y":54},{"x":9700,"y":59},{"x":9800,"y":53},{"x":9900,"y":58},
{"x":10000,"y":55},{"x":10100,"y":60},{"x":10200,"y":53},{"x":10300,"y":59},{"x":10400,"y":54},{"x":10500,"y":60},{"x":10600,"y":53},{"x":10700,"y":58},{"x":10800,"y":55},{"x":10900,"y":60},
{"x":11000,"y":54},{"x":11100,"y":50},{"x":11200,"y":56},
{"x":9520,"y":107},{"x":9520,"y":87},{"x":10870,"y":34},
{"x":11300,"y":56},{"x":11400,"y":70},{"x":11500,"y":55},{"x":11600,"y":71},{"x":11700,"y":57},{"x":11800,"y":69},{"x":11900,"y":54},{"x":12000,"y":72},{"x":12100,"y":56},{"x":12200,"y":70},
{"x":12300,"y":55},{"x":12400,"y":72},{"x":12500,"y":57},{"x":12600,"y":71},{"x":12700,"y":54},{"x":12800,"y":73},{"x":12900,"y":56},{"x":13000,"y":71},{"x":13100,"y":55},{"x":13200,"y":73},
{"x":13300,"y":57},{"x":13400,"y":72},{"x":13500,"y":55},{"x":13600,"y":74},{"x":13700,"y":56},{"x":13800,"y":71},{"x":13900,"y":54},{"x":14000,"y":73},{"x":14100,"y":57},{"x":14200,"y":72},
{"x":14300,"y":55},{"x":14400,"y":74},{"x":14500,"y":56},{"x":14600,"y":72},{"x":14700,"y":58},{"x":14800,"y":73},{"x":14900,"y":55},{"x":15000,"y":74},{"x":15100,"y":57},{"x":15200,"y":72},
{"x":15300,"y":56},{"x":15400,"y":73},{"x":15500,"y":58},{"x":15600,"y":74},{"x":15700,"y":55},{"x":15800,"y":72},{"x":15900,"y":57},{"x":16000,"y":74},{"x":16100,"y":56},{"x":16200,"y":73},
{"x":16300,"y":58},{"x":16400,"y":72},{"x":16500,"y":55},{"x":16600,"y":74},{"x":16700,"y":57},{"x":16800,"y":73},{"x":16900,"y":58},{"x":17000,"y":72},
{"x":17100,"y":66},{"x":17200,"y":73},{"x":17300,"y":64},{"x":17400,"y":72},{"x":17500,"y":67},{"x":17600,"y":74},{"x":17700,"y":65},{"x":17800,"y":71},{"x":17900,"y":51},{"x":18000,"y":68},
{"x":18100,"y":50},{"x":18200,"y":66},{"x":18300,"y":52},{"x":18400,"y":60},{"x":18500,"y":47},{"x":18600,"y":58},{"x":18700,"y":46},{"x":18800,"y":56},{"x":18900,"y":44},{"x":19000,"y":55},
{"x":19100,"y":45},{"x":19200,"y":54},{"x":19300,"y":43},{"x":19400,"y":53},{"x":19500,"y":62},{"x":19600,"y":44},{"x":19700,"y":52},{"x":19800,"y":42},{"x":19900,"y":51},{"x":20000,"y":43},
{"x":20100,"y":61},{"x":20200,"y":44},{"x":20300,"y":53},{"x":20400,"y":42},{"x":20500,"y":55},{"x":20600,"y":43},{"x":20700,"y":54},{"x":20800,"y":42},{"x":20900,"y":55},{"x":21000,"y":67},
{"x":21100,"y":43},{"x":21200,"y":54},{"x":21300,"y":42},{"x":21400,"y":55},{"x":21500,"y":44},{"x":21600,"y":53},{"x":21700,"y":61},{"x":21800,"y":43},{"x":21900,"y":54},{"x":22000,"y":52},
{"x":22100,"y":48},{"x":22200,"y":54},{"x":22300,"y":50},{"x":22400,"y":55},{"x":22500,"y":39},
{"x":22600,"y":58},{"x":22700,"y":70},{"x":22800,"y":56},{"x":22900,"y":72},{"x":23000,"y":76},{"x":23100,"y":60},{"x":23200,"y":71},{"x":23300,"y":57},{"x":23400,"y":69},{"x":23500,"y":62},
{"x":23600,"y":72},{"x":23700,"y":58},{"x":23800,"y":70},{"x":23900,"y":63},{"x":24000,"y":71},{"x":24100,"y":57},{"x":24200,"y":68},{"x":24300,"y":61},{"x":24400,"y":72},{"x":24500,"y":76},
{"x":24600,"y":59},{"x":24700,"y":71},{"x":24800,"y":64},{"x":24900,"y":70},
{"x":22650,"y":64},{"x":22750,"y":60},{"x":22850,"y":66},{"x":22950,"y":62},{"x":23050,"y":67},{"x":23150,"y":65},{"x":23250,"y":61},{"x":23350,"y":68},{"x":23450,"y":64},{"x":23550,"y":59},
{"x":23650,"y":66},{"x":23750,"y":63},{"x":23850,"y":67},{"x":23950,"y":60},{"x":24050,"y":65},{"x":24150,"y":62},{"x":24250,"y":69},{"x":24350,"y":66},{"x":24450,"y":60},{"x":24550,"y":67},
{"x":24650,"y":63},{"x":24750,"y":65},{"x":24850,"y":60},{"x":24950,"y":66},{"x":23250,"y":88},
{"x":50,"y":60},{"x":150,"y":58},{"x":250,"y":62},{"x":350,"y":59},{"x":450,"y":65},{"x":550,"y":55},{"x":650,"y":61},{"x":750,"y":57},{"x":850,"y":63},{"x":950,"y":56},
{"x":1050,"y":61},{"x":1150,"y":58},{"x":1250,"y":64},{"x":1350,"y":55},{"x":1450,"y":62},{"x":1550,"y":57},{"x":1650,"y":63},{"x":1750,"y":56},{"x":1850,"y":60},{"x":1950,"y":58},
{"x":2050,"y":63},{"x":2150,"y":55},{"x":2250,"y":61},{"x":2350,"y":57},{"x":2450,"y":62},{"x":2550,"y":54},{"x":2650,"y":53},
{"x":2750,"y":64},{"x":2850,"y":63},{"x":2950,"y":66},{"x":3050,"y":63},{"x":3150,"y":65},{"x":3250,"y":62},{"x":3350,"y":64},{"x":3450,"y":63},{"x":3550,"y":66},
{"x":3650,"y":67},{"x":3750,"y":65},{"x":3850,"y":68},{"x":3950,"y":66},{"x":4050,"y":67},{"x":4150,"y":65},{"x":4250,"y":69},{"x":4350,"y":67},{"x":4450,"y":68},{"x":4550,"y":70},
{"x":4650,"y":79},{"x":4750,"y":71},{"x":4850,"y":80},{"x":4950,"y":72},{"x":5050,"y":82},{"x":5150,"y":70},{"x":5250,"y":81},{"x":5350,"y":71},{"x":5450,"y":80},{"x":5550,"y":60},
{"x":5650,"y":49},{"x":5750,"y":47},{"x":5850,"y":50},{"x":5950,"y":49},
{"x":6050,"y":51},{"x":6150,"y":52},{"x":6250,"y":54},{"x":6350,"y":55},{"x":6450,"y":56},{"x":6550,"y":57},{"x":6650,"y":58},{"x":6750,"y":59},{"x":6850,"y":60},{"x":6950,"y":61},
{"x":7050,"y":62},{"x":7150,"y":63},{"x":7250,"y":63},{"x":7350,"y":64},{"x":7450,"y":64},{"x":7550,"y":65},{"x":7650,"y":66},{"x":7750,"y":66},{"x":7850,"y":67},{"x":7950,"y":66},
{"x":8050,"y":67},{"x":8150,"y":66},{"x":8250,"y":68},{"x":8350,"y":66},{"x":8450,"y":67},{"x":8550,"y":66},{"x":8650,"y":68},{"x":8750,"y":65},{"x":8850,"y":67},{"x":8950,"y":65},
{"x":9050,"y":66},{"x":9150,"y":64},{"x":9250,"y":65},{"x":9350,"y":57},{"x":9450,"y":56},{"x":9550,"y":55},{"x":9650,"y":57},{"x":9750,"y":54},{"x":9850,"y":56},{"x":9950,"y":55},
{"x":10050,"y":57},{"x":10150,"y":54},{"x":10250,"y":56},{"x":10350,"y":55},{"x":10450,"y":57},{"x":10550,"y":54},{"x":10650,"y":56},{"x":10750,"y":55},{"x":10850,"y":57},{"x":10950,"y":54},
{"x":11050,"y":56},{"x":11150,"y":55},{"x":11250,"y":54},
{"x":11350,"y":71},{"x":11450,"y":56},{"x":11550,"y":70},{"x":11650,"y":55},{"x":11750,"y":72},{"x":11850,"y":57},{"x":11950,"y":71},{"x":12050,"y":55},{"x":12150,"y":73},{"x":12250,"y":56},
{"x":12350,"y":71},{"x":12450,"y":54},{"x":12550,"y":73},{"x":12650,"y":56},{"x":12750,"y":72},{"x":12850,"y":55},{"x":12950,"y":73},{"x":13050,"y":57},{"x":13150,"y":72},{"x":13250,"y":55},
{"x":13350,"y":74},{"x":13450,"y":56},{"x":13550,"y":72},{"x":13650,"y":55},{"x":13750,"y":73},{"x":13850,"y":57},{"x":13950,"y":74},{"x":14050,"y":55},{"x":14150,"y":73},{"x":14250,"y":56},
{"x":14350,"y":72},{"x":14450,"y":57},{"x":14550,"y":74},{"x":14650,"y":55},{"x":14750,"y":73},{"x":14850,"y":56},{"x":14950,"y":72},{"x":15050,"y":57},{"x":15150,"y":74},{"x":15250,"y":55},
{"x":15350,"y":73},{"x":15450,"y":56},{"x":15550,"y":72},{"x":15650,"y":57},{"x":15750,"y":74},{"x":15850,"y":56},{"x":15950,"y":73},{"x":16050,"y":55},{"x":16150,"y":74},{"x":16250,"y":57},
{"x":16350,"y":73},{"x":16450,"y":56},{"x":16550,"y":72},{"x":16650,"y":57},{"x":16750,"y":74},{"x":16850,"y":56},{"x":16950,"y":73},
{"x":17050,"y":70},{"x":17150,"y":72},{"x":17250,"y":68},{"x":17350,"y":73},{"x":17450,"y":69},{"x":17550,"y":71},{"x":17650,"y":73},{"x":17750,"y":68},{"x":17850,"y":72},{"x":17950,"y":66},
{"x":18050,"y":52},{"x":18150,"y":64},{"x":18250,"y":49},{"x":18350,"y":62},{"x":18450,"y":48},{"x":18550,"y":60},{"x":18650,"y":47},{"x":18750,"y":59},{"x":18850,"y":46},{"x":18950,"y":57},
{"x":19050,"y":44},{"x":19150,"y":56},{"x":19250,"y":45},{"x":19350,"y":55},{"x":19450,"y":43},{"x":19550,"y":54},{"x":19650,"y":42},{"x":19750,"y":55},{"x":19850,"y":44},{"x":19950,"y":53},
{"x":20050,"y":42},{"x":20150,"y":54},{"x":20250,"y":43},{"x":20350,"y":55},{"x":20450,"y":42},{"x":20550,"y":53},{"x":20650,"y":43},{"x":20750,"y":55},{"x":20850,"y":42},{"x":20950,"y":54},
{"x":21050,"y":43},{"x":21150,"y":55},{"x":21250,"y":42},{"x":21350,"y":54},{"x":21450,"y":43},{"x":21550,"y":55},{"x":21650,"y":42},{"x":21750,"y":54},{"x":21850,"y":44},{"x":21950,"y":53},
{"x":22050,"y":53},{"x":22150,"y":51},{"x":22250,"y":55},{"x":22350,"y":52},{"x":22450,"y":50},{"x":22550,"y":56}
]
},
"vconcat": [
{
 "width": 616, "height": 177,
 "layer": [
  {"data": {"name": "eSBP"}, "mark": {"type": "point", "filled": false, "size": 64, "strokeWidth": 1.5, "opacity": 1},
   "encoding": {
    "x": {"field": "x", "type": "quantitative", "scale": {"domain": [0, 25000], "nice": false, "zero": false}, "axis": {"values": [0, 5000, 10000, 15000, 20000, 25000], "labelExpr": "'' + datum.value / 10000", "title": "Sample"}},
    "y": {"field": "y", "type": "quantitative", "scale": {"domain": [50, 200], "nice": false, "zero": false}, "axis": {"values": [50, 100, 150, 200], "title": "BP(mmHg)"}},
    "color": {"datum": "eSBP", "type": "nominal", "scale": {"domain": ["eSBP", "SBP"], "range": ["#ff0000", "#0000ff"]}, "legend": {"title": null}},
    "shape": {"datum": "eSBP", "type": "nominal", "scale": {"domain": ["eSBP", "SBP"], "range": ["M-1,-1L1,1M-1,1L1,-1", "M-1,0L1,0M0,-1L0,1"]}, "legend": {"title": null}}
   }},
  {"data": {"name": "SBP"}, "mark": {"type": "point", "filled": false, "size": 64, "strokeWidth": 1.5, "opacity": 1},
   "encoding": {
    "x": {"field": "x", "type": "quantitative"},
    "y": {"field": "y", "type": "quantitative"},
    "color": {"datum": "SBP", "type": "nominal", "scale": {"domain": ["eSBP", "SBP"], "range": ["#ff0000", "#0000ff"]}, "legend": {"title": null}},
    "shape": {"datum": "SBP", "type": "nominal", "scale": {"domain": ["eSBP", "SBP"], "range": ["M-1,-1L1,1M-1,1L1,-1", "M-1,0L1,0M0,-1L0,1"]}, "legend": {"title": null}}
   }},
  {"data": {"values": [{"t": "×10"}]}, "mark": {"type": "text", "align": "right", "baseline": "alphabetic", "dy": 49, "dx": -9, "fontSize": 16, "font": "Liberation Sans", "color": "#262626"},
   "encoding": {"x": {"datum": 25000, "type": "quantitative"}, "y": {"datum": 50, "type": "quantitative"}, "text": {"field": "t"}}},
  {"data": {"values": [{"t": "4"}]}, "mark": {"type": "text", "align": "left", "baseline": "alphabetic", "dy": 43, "dx": -8, "fontSize": 11, "font": "Liberation Sans", "color": "#262626"},
   "encoding": {"x": {"datum": 25000, "type": "quantitative"}, "y": {"datum": 50, "type": "quantitative"}, "text": {"field": "t"}}}
 ]
},
{
 "width": 616, "height": 178,
 "layer": [
  {"data": {"name": "eDBP"}, "mark": {"type": "point", "filled": false, "size": 64, "strokeWidth": 1.5, "opacity": 1},
   "encoding": {
    "x": {"field": "x", "type": "quantitative", "scale": {"domain": [0, 25000], "nice": false, "zero": false}, "axis": {"values": [0, 5000, 10000, 15000, 20000, 25000], "labelExpr": "'' + datum.value / 10000", "title": "Sample"}},
    "y": {"field": "y", "type": "quantitative", "scale": {"domain": [20, 120], "nice": false, "zero": false}, "axis": {"values": [20, 40, 60, 80, 100, 120], "title": "BP(mmHg)"}},
    "color": {"datum": "eDBP", "type": "nominal", "scale": {"domain": ["eDBP", "DBP"], "range": ["#ff0000", "#0000ff"]}, "legend": {"title": null}},
    "shape": {"datum": "eDBP", "type": "nominal", "scale": {"domain": ["eDBP", "DBP"], "range": ["M-1,-1L1,1M-1,1L1,-1", "M-1,0L1,0M0,-1L0,1"]}, "legend": {"title": null}}
   }},
  {"data": {"name": "DBP"}, "mark": {"type": "point", "filled": false, "size": 64, "strokeWidth": 1.5, "opacity": 1},
   "encoding": {
    "x": {"field": "x", "type": "quantitative"},
    "y": {"field": "y", "type": "quantitative"},
    "color": {"datum": "DBP", "type": "nominal", "scale": {"domain": ["eDBP", "DBP"], "range": ["#ff0000", "#0000ff"]}, "legend": {"title": null}},
    "shape": {"datum": "DBP", "type": "nominal", "scale": {"domain": ["eDBP", "DBP"], "range": ["M-1,-1L1,1M-1,1L1,-1", "M-1,0L1,0M0,-1L0,1"]}, "legend": {"title": null}}
   }},
  {"data": {"values": [{"t": "×10"}]}, "mark": {"type": "text", "align": "right", "baseline": "alphabetic", "dy": 49, "dx": -9, "fontSize": 16, "font": "Liberation Sans", "color": "#262626"},
   "encoding": {"x": {"datum": 25000, "type": "quantitative"}, "y": {"datum": 20, "type": "quantitative"}, "text": {"field": "t"}}},
  {"data": {"values": [{"t": "4"}]}, "mark": {"type": "text", "align": "left", "baseline": "alphabetic", "dy": 43, "dx": -8, "fontSize": 11, "font": "Liberation Sans", "color": "#262626"},
   "encoding": {"x": {"datum": 25000, "type": "quantitative"}, "y": {"datum": 20, "type": "quantitative"}, "text": {"field": "t"}}}
 ]
}
]
}
